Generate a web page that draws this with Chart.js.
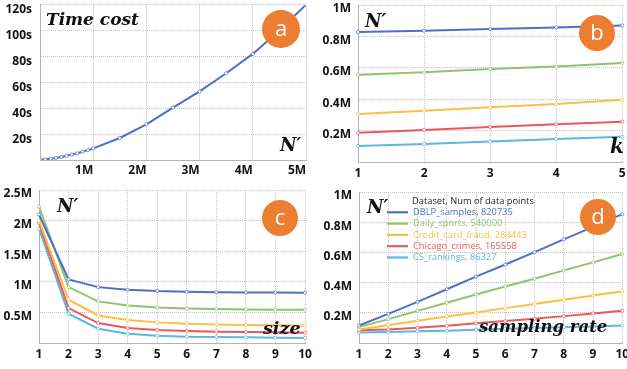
<!DOCTYPE html>
<html>
<head>
<meta charset="utf-8">
<script src="https://cdn.jsdelivr.net/npm/chart.js@4.4.1/dist/chart.umd.min.js"></script>
<style>
body { margin: 0; background: #fff; width: 627px; height: 369px; position: relative; overflow: hidden; }
canvas { position: absolute; }
</style>
</head>
<body>
<canvas id="chartA" width="313" height="178" style="left:0;top:0"></canvas>
<canvas id="chartB" width="314" height="180" style="left:313px;top:0"></canvas>
<canvas id="chartC" width="313" height="189" style="left:0;top:180px"></canvas>
<canvas id="chartD" width="314" height="189" style="left:313px;top:180px"></canvas>
<script>
// data (N' in millions)
let datasetNames = ["DBLP_samples, 820735", "Daily_sports, 540000", "Credit_card_fraud, 284443", "Chicago_crimes, 165558", "CS_rankings, 86327"];

// (a) time cost vs N'
let sizeA = [0, 0.1, 0.2, 0.3, 0.4, 0.5, 0.6, 0.7, 0.8, 0.9, 1, 1.5, 2, 2.5, 3, 3.5, 4, 4.5, 5];
let timeA = [0, 0.5, 1, 1.6, 2.4, 3.2, 4.2, 5.2, 6.4, 7.6, 9, 17, 27.5, 40.5, 53, 67, 82, 100, 120];

// (b) N' vs k
let kLabels = ["1", "2", "3", "4", "5"];
let dblpK = [0.828, 0.836, 0.847, 0.857, 0.87];
let dailyK = [0.555, 0.572, 0.592, 0.608, 0.63];
let creditK = [0.306, 0.327, 0.349, 0.37, 0.396];
let chicagoK = [0.187, 0.204, 0.223, 0.24, 0.257];
let csK = [0.102, 0.115, 0.13, 0.147, 0.161];

// (c) N' vs size
let sizeLabels = ["1", "2", "3", "4", "5", "6", "7", "8", "9", "10"];
let dblpS = [2.1, 1.04, 0.913, 0.87, 0.848, 0.837, 0.83, 0.826, 0.826, 0.82];
let dailyS = [2.23, 0.913, 0.68, 0.614, 0.58, 0.565, 0.554, 0.549, 0.543, 0.543];
let creditS = [2.0, 0.707, 0.45, 0.375, 0.337, 0.315, 0.304, 0.293, 0.288, 0.283];
let chicagoS = [1.96, 0.57, 0.326, 0.245, 0.212, 0.196, 0.185, 0.179, 0.174, 0.168];
let csS = [1.87, 0.478, 0.234, 0.152, 0.12, 0.103, 0.098, 0.092, 0.087, 0.082];

// (d) N' vs sampling rate
let rateLabels = ["1", "2", "3", "4", "5", "6", "7", "8", "9", "10"];
let dblpR = [0.116, 0.193, 0.272, 0.356, 0.44, 0.52, 0.602, 0.686, 0.769, 0.853];
let dailyR = [0.105, 0.158, 0.213, 0.266, 0.321, 0.374, 0.426, 0.481, 0.534, 0.589];
let creditR = [0.09, 0.119, 0.147, 0.176, 0.202, 0.231, 0.259, 0.286, 0.314, 0.343];
let chicagoR = [0.084, 0.09, 0.101, 0.114, 0.13, 0.145, 0.16, 0.178, 0.196, 0.213];
let csR = [0.07, 0.073, 0.077, 0.081, 0.088, 0.094, 0.099, 0.105, 0.11, 0.116];

let colors = ["#4f6fc6", "#8cc66b", "#fbbf45", "#e8585d", "#5cb8de"];

/* draws the orange letter badges, italic axis captions and the legend of panel d */
const decorPlugin = {
    id: "decor",
    afterDatasetsDraw(chart, args, opts) {
        let ctx = chart.ctx;
        ctx.save();
        ctx.textBaseline = "middle";
        (opts.texts || []).forEach(function (t) {
            ctx.font = "italic bold " + t.size + "px 'DejaVu Serif'";
            ctx.fillStyle = "#111";
            ctx.textAlign = "left";
            ctx.fillText(t.text, t.x, t.y);
        });
        if (opts.badge) {
            let b = opts.badge;
            ctx.beginPath();
            ctx.arc(b.x, b.y, b.r, 0, Math.PI * 2);
            ctx.fillStyle = "#ed7d31";
            ctx.fill();
            ctx.fillStyle = "#fff";
            ctx.textAlign = "center";
            ctx.font = "22px 'Open Sans'";
            ctx.fillText(b.letter, b.x, b.y + 1);
        }
        if (opts.legend) {
            let l = opts.legend;
            ctx.textAlign = "left";
            ctx.font = "9.3px 'Open Sans'";
            ctx.fillStyle = "#222";
            ctx.fillText(l.title, l.x + 25, l.y);
            chart.data.datasets.forEach(function (ds, i) {
                let y = l.y + 11.3 * (i + 1);
                ctx.strokeStyle = ds.borderColor;
                ctx.lineWidth = 2.2;
                ctx.beginPath();
                ctx.moveTo(l.x, y);
                ctx.lineTo(l.x + 21, y);
                ctx.stroke();
                ctx.fillStyle = ds.borderColor;
                ctx.fillText(ds.label, l.x + 26, y);
            });
        }
        ctx.restore();
    }
};

let tickFont = { family: "'Open Sans'", size: 12, weight: "bold" };

function fixSize(w, h) {
    return function (scale) {
        if (w !== null) scale.width = w;
        if (h !== null) scale.height = h;
        scale.paddingLeft = 0;
        scale.paddingRight = 0;
        scale.paddingTop = 0;
        scale.paddingBottom = 0;
    };
}

function gridOpts() {
    return { color: "#c4c4c4", drawTicks: false };
}

function borderOpts() {
    return { color: "#b4b4b4", width: 1, dash: [1, 1] };
}

function makeSets(arrs) {
    return arrs.map(function (a, i) {
        return {
            label: datasetNames[i],
            data: a,
            borderColor: colors[i],
            borderWidth: 2,
            pointRadius: 1.6,
            pointBorderWidth: 0.7,
            pointBackgroundColor: "#fff",
            pointBorderColor: colors[i],
            tension: 0
        };
    });
}

function mLabel(v) {
    let r = Math.round(v * 10) / 10;
    return r === 0 ? "" : r + "M";
}

// chart a
new Chart(document.getElementById("chartA"), {
    type: "line",
    data: {
        datasets: [{
            data: sizeA.map(function (x, i) { return { x: x, y: timeA[i] }; }),
            borderColor: colors[0],
            borderWidth: 2,
            pointRadius: 1.6,
            pointBorderWidth: 0.7,
            pointBackgroundColor: "#fff",
            pointBorderColor: colors[0]
        }]
    },
    plugins: [decorPlugin],
    options: {
        responsive: false,
        animation: false,
        layout: { padding: { top: 4, right: 7, left: 0, bottom: 0 } },
        plugins: {
            legend: { display: false },
            tooltip: { enabled: false },
            decor: {
                texts: [
                    { text: "Time cost", x: 46, y: 21, size: 17 },
                    { text: "N\u2032", x: 280, y: 146, size: 18 }
                ],
                badge: { x: 281, y: 29, r: 19, letter: "a" }
            }
        },
        scales: {
            x: {
                type: "linear", min: 0, max: 5,
                ticks: { stepSize: 1, font: tickFont, color: "#111", padding: 3, labelOffset: -9, maxRotation: 0,
                    callback: function (v) { return mLabel(v); } },
                grid: gridOpts(), border: borderOpts(),
                afterFit: fixSize(null, 18)
            },
            y: {
                min: 0, max: 120,
                ticks: { stepSize: 20, font: tickFont, color: "#111", padding: 8, labelOffset: 5,
                    callback: function (v) { return v === 0 ? "" : v + "s"; } },
                grid: gridOpts(), border: borderOpts(),
                afterFit: fixSize(40, null)
            }
        }
    }
});

function lineChart(id, labels, arrs, yMax, yStep, pad, yW, xH, decor) {
    return new Chart(document.getElementById(id), {
        type: "line",
        data: { labels: labels, datasets: makeSets(arrs) },
        plugins: [decorPlugin],
        options: {
            responsive: false,
            animation: false,
            layout: { padding: pad },
            plugins: { legend: { display: false }, tooltip: { enabled: false }, decor: decor },
            scales: {
                x: {
                    offset: false,
                    ticks: { font: tickFont, color: "#111", padding: 4, maxRotation: 0, autoSkip: false },
                    grid: Object.assign(gridOpts(), { offset: false }), border: borderOpts(),
                    afterFit: fixSize(null, xH)
                },
                y: {
                    min: 0, max: yMax,
                    ticks: { stepSize: yStep, font: tickFont, color: "#111", padding: 7, labelOffset: 4,
                        callback: function (v) { return mLabel(v); } },
                    grid: gridOpts(), border: borderOpts(),
                    afterFit: fixSize(yW, null)
                }
            }
        }
    });
}

// chart b
lineChart("chartB", kLabels, [dblpK, dailyK, creditK, chicagoK, csK], 1, 0.2,
    { top: 5, right: 3, left: 0, bottom: 0 }, 45, 18, {
        texts: [
            { text: "N\u2032", x: 52, y: 22, size: 18 },
            { text: "k", x: 297, y: 148, size: 20 }
        ],
        badge: { x: 284, y: 33, r: 18, letter: "b" }
    });

// chart c
lineChart("chartC", sizeLabels, [dblpS, dailyS, creditS, chicagoS, csS], 2.5, 0.5,
    { top: 10, right: 8, left: 0, bottom: 0 }, 39, 26, {
        texts: [
            { text: "N\u2032", x: 57, y: 27, size: 18 },
            { text: "size", x: 263, y: 149, size: 17.5 }
        ],
        badge: { x: 280, y: 38, r: 18, letter: "c" }
    });

// chart d
lineChart("chartD", rateLabels, [dblpR, dailyR, creditR, chicagoR, csR], 1, 0.2,
    { top: 12, right: 4, left: 0, bottom: 0 }, 46, 26, {
        texts: [
            { text: "N\u2032", x: 54, y: 28, size: 18 },
            { text: "sampling rate", x: 166, y: 148, size: 16.5 }
        ],
        badge: { x: 285, y: 37, r: 18, letter: "d" },
        legend: { title: "Dataset, Num of data points", x: 74, y: 21 }
    });
</script>
</body>
</html>
